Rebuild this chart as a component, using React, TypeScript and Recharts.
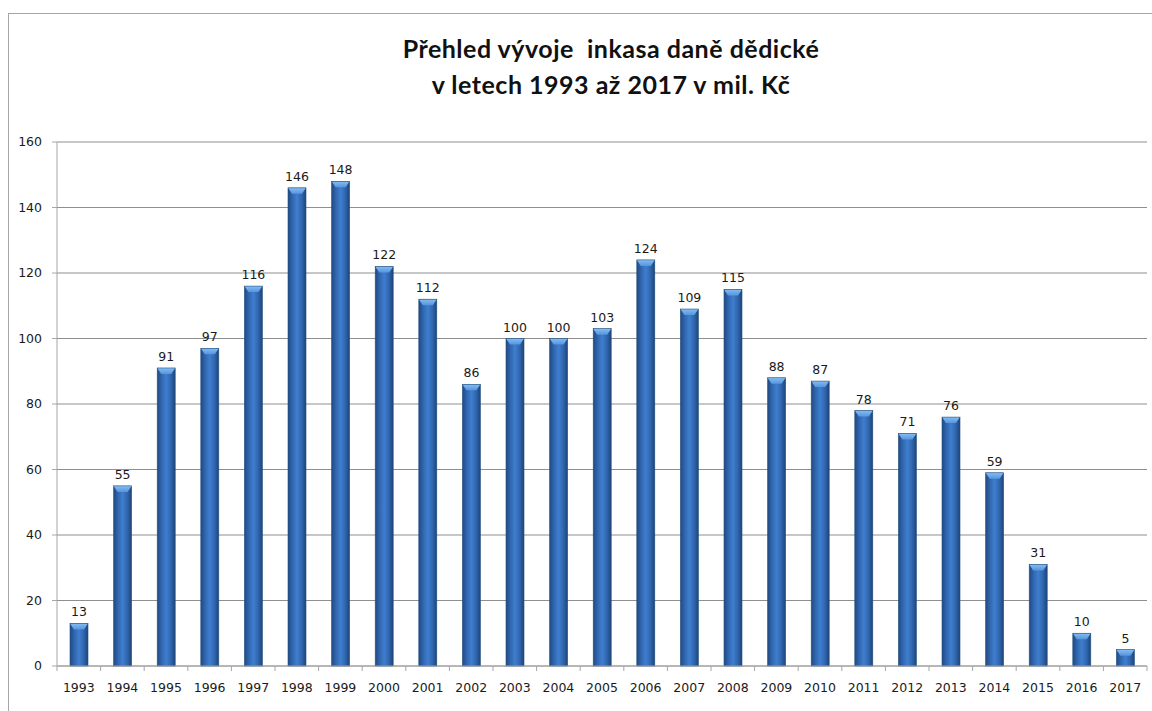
import React from 'react';
import { BarChart, Bar, XAxis, YAxis, CartesianGrid, LabelList } from 'recharts';

// years and collected inheritance tax (mil. Kč)
const years = [
  '1993', '1994', '1995', '1996', '1997', '1998', '1999', '2000', '2001',
  '2002', '2003', '2004', '2005', '2006', '2007', '2008', '2009', '2010',
  '2011', '2012', '2013', '2014', '2015', '2016', '2017',
];
const inkaso = [
  13, 55, 91, 97, 116, 146, 148, 122, 112, 86, 100, 100, 103, 124, 109, 115,
  88, 87, 78, 71, 76, 59, 31, 10, 5,
];
const yTicks = [0, 20, 40, 60, 80, 100, 120, 140, 160];

const titleLines = ['Přehled vývoje  inkasa daně dědické', 'v letech 1993 až 2017 v mil. Kč'];

const data = years.map((year, i) => ({ year, value: inkaso[i] }));

const CHART_W = 1143;
const CHART_H = 697;
const MARGIN = { top: 128, right: 5, bottom: 0, left: 0 };
const Y_AXIS_W = 48;
const X_AXIS_H = 45;
const FONT = '"DejaVu Sans", Verdana, sans-serif';
const GRID = '#8f8f8f';
const AXIS = '#a6a6a6';

const plotWidth = CHART_W - MARGIN.left - MARGIN.right - Y_AXIS_W;
const halfBand = plotWidth / years.length / 2;

// bar with darker edges and a light bevel on top
const BevelBar = (props: any) => {
  const { x, y, width, height } = props;
  if (!height || height <= 0) return null;
  const bevel = Math.min(6, height / 2);
  return (
    <g>
      <rect x={x} y={y} width={width} height={height} fill="url(#barGrad)" />
      <polygon
        points={`${x},${y} ${x + width},${y} ${x + width - 4},${y + bevel} ${x + 4},${y + bevel}`}
        fill="url(#topGrad)"
      />
      <rect x={x} y={y} width={width} height={height} fill="none" stroke="#24507f" strokeWidth={0.6} />
    </g>
  );
};

// x tick: label in the middle, tick marks on the category boundaries
const YearTick = (props: any) => {
  const { x, y, payload, index } = props;
  const last = index === years.length - 1;
  return (
    <g>
      <line x1={x - halfBand} x2={x - halfBand} y1={y - 8} y2={y - 3} stroke={AXIS} />
      {last && <line x1={x + halfBand} x2={x + halfBand} y1={y - 8} y2={y - 3} stroke={AXIS} />}
      <text x={x} y={y + 18} textAnchor="middle" fontSize={12.5} fontFamily={FONT} fill="#1a1a1a">
        {payload.value}
      </text>
    </g>
  );
};

export default function App() {
  return (
    <div
      style={{
        position: 'absolute',
        left: 8,
        top: 13,
        width: 1144,
        height: 698,
        boxSizing: 'border-box',
        borderTop: '1px solid #a6a6a6',
        borderLeft: '1px solid #a6a6a6',
        background: '#fff',
        overflow: 'hidden',
      }}
    >
      <div
        style={{
          position: 'absolute',
          left: 352,
          width: 500,
          top: 16,
          textAlign: 'center',
          fontFamily: 'Lato, "Open Sans", sans-serif',
          fontWeight: 700,
          fontSize: 25,
          letterSpacing: 0.5,
          lineHeight: '36px',
          color: '#111',
          whiteSpace: 'pre',
        }}
      >
        {titleLines.map((t) => (
          <div key={t}>{t}</div>
        ))}
      </div>
      <BarChart width={CHART_W} height={CHART_H} data={data} margin={MARGIN}>
        <defs>
          <linearGradient id="barGrad" x1="0" y1="0" x2="1" y2="0">
            <stop offset="0%" stopColor="#1f4a84" />
            <stop offset="25%" stopColor="#3167b0" />
            <stop offset="50%" stopColor="#3f7ecf" />
            <stop offset="75%" stopColor="#3167b0" />
            <stop offset="100%" stopColor="#1d4579" />
          </linearGradient>
          <linearGradient id="topGrad" x1="0" y1="0" x2="0" y2="1">
            <stop offset="0%" stopColor="#86bcf2" />
            <stop offset="100%" stopColor="#5596de" />
          </linearGradient>
        </defs>
        <CartesianGrid vertical={false} stroke={GRID} />
        <XAxis
          dataKey="year"
          height={X_AXIS_H}
          axisLine={{ stroke: AXIS }}
          tickLine={false}
          tick={<YearTick />}
          interval={0}
        />
        <YAxis
          width={Y_AXIS_W}
          domain={[0, 160]}
          ticks={yTicks}
          axisLine={{ stroke: AXIS }}
          tickLine={{ stroke: AXIS }}
          tickSize={5}
          tickMargin={10}
          tick={{ fontSize: 12.5, fontFamily: FONT, fill: '#1a1a1a' }}
        />
        <Bar dataKey="value" barSize={18} shape={<BevelBar />} isAnimationActive={false}>
          <LabelList
            dataKey="value"
            position="top"
            offset={7}
            fontSize={12.5}
            fontFamily={FONT}
            fill="#1a1a1a"
          />
        </Bar>
      </BarChart>
    </div>
  );
}
